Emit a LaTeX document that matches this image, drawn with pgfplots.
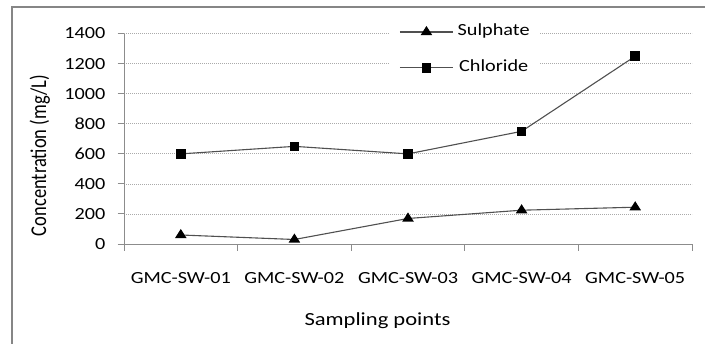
\documentclass[border=0pt]{standalone}
\usepackage{graphicx}
\usepackage{pgfplots}
\pgfplotsset{compat=1.18}
\usepackage{fontspec}
\setmainfont{Carlito}
\definecolor{framegray}{RGB}{134,134,134}
\definecolor{axgray}{RGB}{140,140,140}
\definecolor{gridgray}{RGB}{170,170,170}
\definecolor{linegray}{RGB}{80,80,80}
\newcommand{\hs}[1]{\scalebox{1.19}[1]{#1}}
\newcommand{\hl}[1]{\scalebox{1.22}[1]{#1}}
\newcommand{\tfont}{\fontsize{17bp}{20bp}\selectfont}
\newcommand{\lfont}{\fontsize{18.5bp}{22bp}\selectfont}
\begin{document}
\tfont
\begin{tikzpicture}[x=1bp,y=1bp]
\useasboundingbox (0,0) rectangle (705,343);
\clip (0,0) rectangle (705,343);
\draw[framegray, line width=1.3bp] (12,-20) rectangle (730,336);
\begin{axis}[
  at={(124bp,99bp)}, anchor=south west,
  scale only axis, width=568bp, height=210.3bp,
  xmin=-0.5, xmax=4.5, ymin=0, ymax=1400,
  axis lines*=left,
  axis line style={axgray, line width=1bp},
  tick align=outside,
  major tick length=6.5bp,
  tick style={axgray, line width=1bp},
  ytick={0,200,...,1400},
  yticklabel={\hs{\pgfmathprintnumber[assume math mode=true, set thousands separator={}]{\tick}}},
  ymajorgrids,
  grid style={gridgray, line width=0.8bp, dash pattern=on 1bp off 1bp},
  xtick={-0.5,0.5,1.5,2.5,3.5,4.5},
  xticklabels={},
  extra x ticks={0,1,2,3,4},
  extra x tick labels={\hs{GMC-SW-01},\hs{GMC-SW-02},\hs{GMC-SW-03},\hs{GMC-SW-04},\hs{GMC-SW-05}},
  extra x tick style={major tick length=0pt, grid=none},
  ticklabel style={font=\tfont, text=black},
  xticklabel style={anchor=base, inner sep=0pt, yshift=-39.5bp},
  yticklabel style={anchor=base east, inner sep=0pt, xshift=-12bp, yshift=-5.3bp},
  xlabel={\hl{Sampling points}},
  ylabel={\scalebox{1}[1.22]{Concentration (mg/L)}},
  every axis x label/.style={at={(axis description cs:0.4463,-0.3899)}, anchor=base, font=\lfont},
  every axis y label/.style={at={(axis description cs:-0.1373,0.4208)}, rotate=90, anchor=base, font=\lfont},
  legend style={at={(rel axis cs:0.4683,1.0628)}, anchor=north west, draw=none, fill=white,
    inner xsep=9bp, inner ysep=3bp, nodes={inner sep=0pt, anchor=base},
    column sep=4bp, row sep=21.6bp, font=\tfont},
  legend cell align=left,
  legend image code/.code={\draw[mark repeat=2, mark phase=2] plot coordinates {(0bp,3.5bp) (26.7bp,3.5bp) (53.4bp,3.5bp)};},
]
\addplot[linegray, line width=1.1bp, mark=triangle*, mark size=5bp, mark options={fill=black, draw=black, xscale=1.1}]
  coordinates {(0,60) (1,30) (2,170) (3,225) (4,245)};
\addlegendentry{\hs{Sulphate}}
\addplot[linegray, line width=1.1bp, mark=square*, mark size=4.2bp, mark options={fill=black, draw=black}]
  coordinates {(0,600) (1,650) (2,600) (3,750) (4,1250)};
\addlegendentry{\hs{Chloride}}
\end{axis}
\end{tikzpicture}
\end{document}
